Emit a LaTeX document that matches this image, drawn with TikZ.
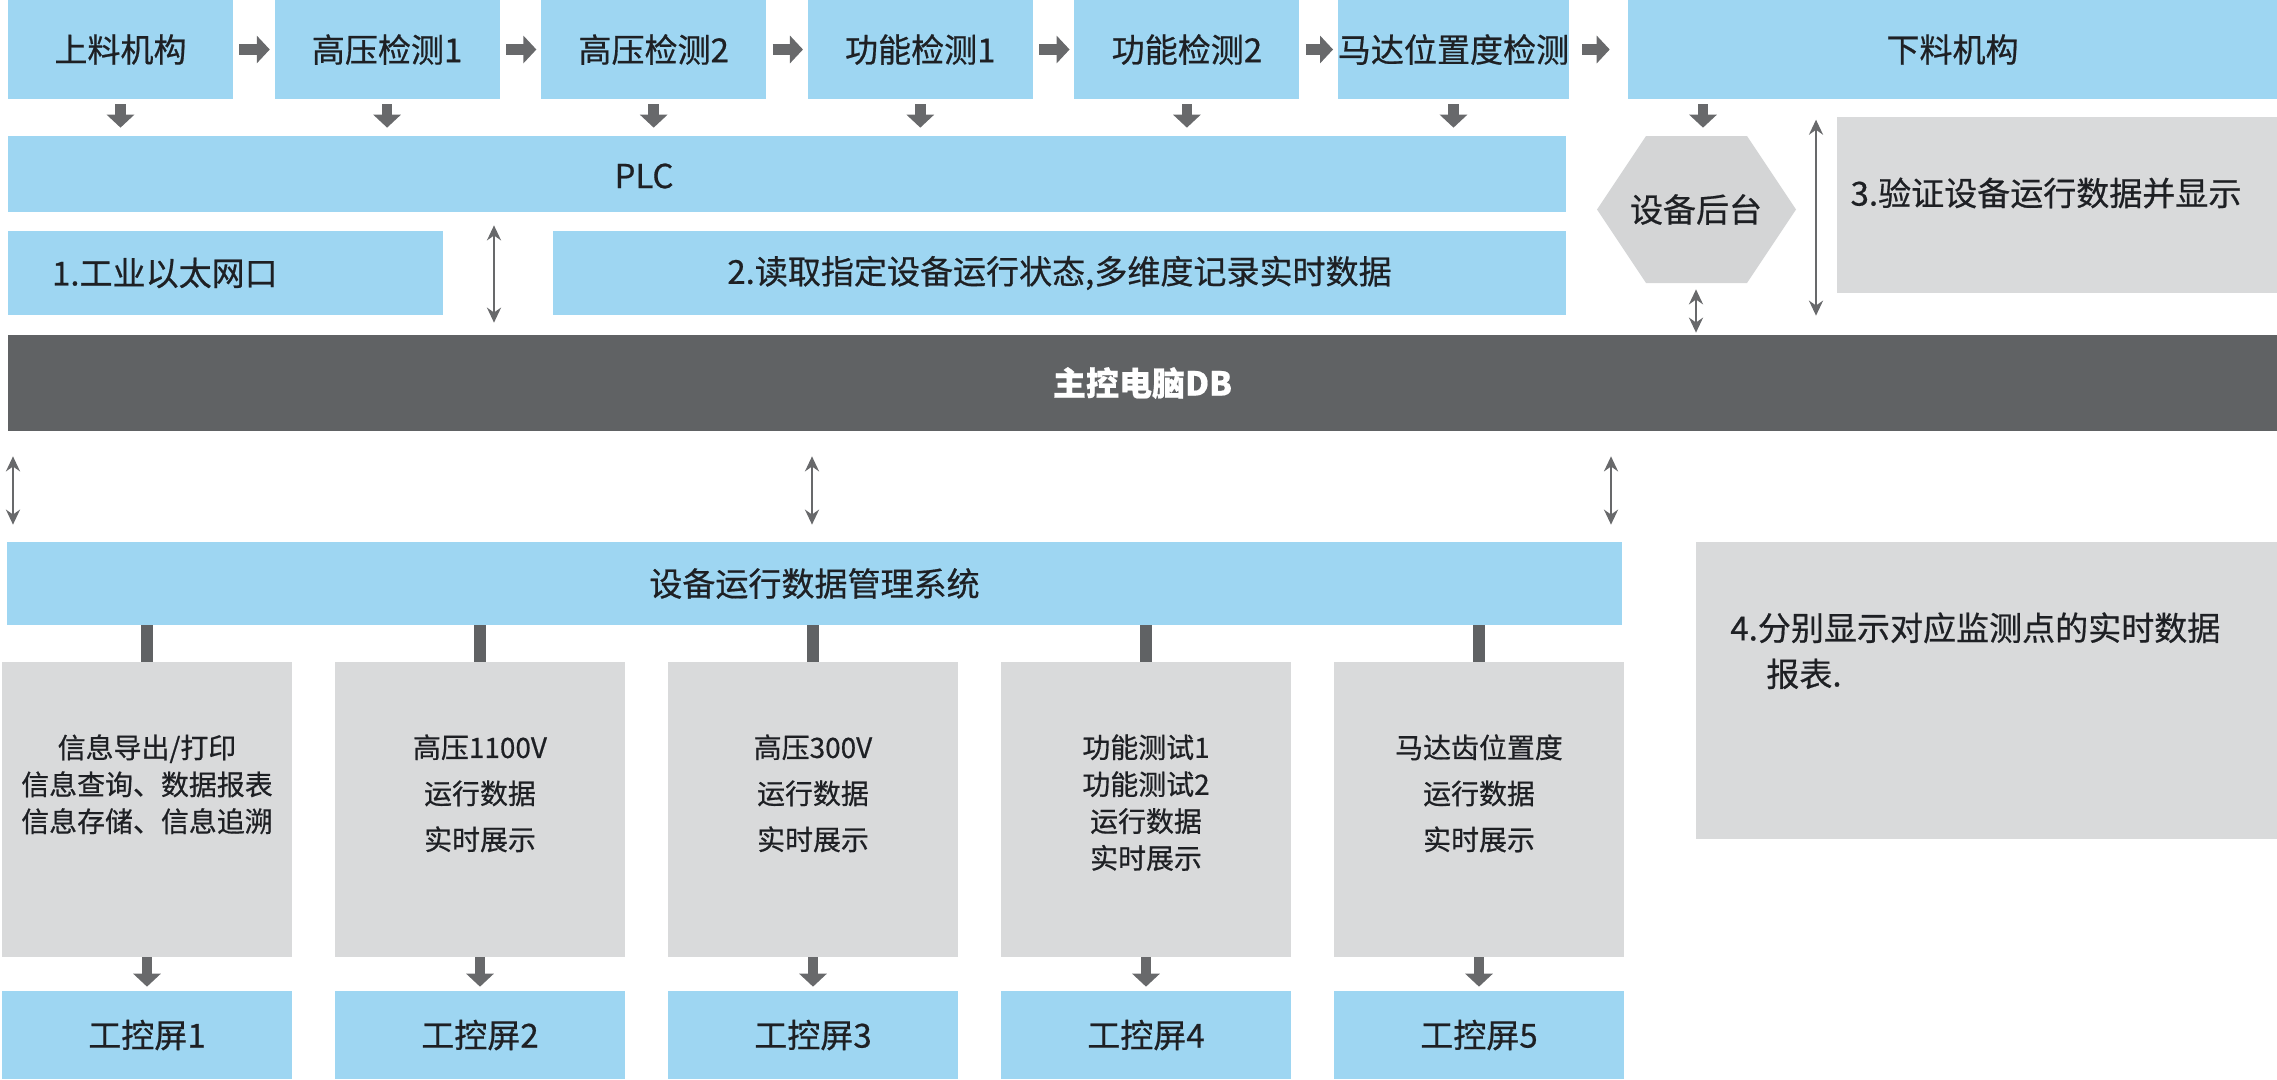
\documentclass[tikz,border=0pt]{standalone}
\usepackage{fontspec}
\setmainfont{Noto Sans CJK SC}[FakeBold=0.6]
\usetikzlibrary{arrows.meta}
\definecolor{boxblue}{RGB}{158,214,242}
\definecolor{boxgrey}{RGB}{217,218,219}
\definecolor{hexgrey}{RGB}{212,213,214}
\definecolor{bargrey}{RGB}{96,98,100}
\definecolor{arrowgrey}{RGB}{104,105,107}
\definecolor{inkgrey}{RGB}{30,32,36}
\begin{document}
\begin{tikzpicture}[x=0.02cm, y=-0.02cm, line join=round, text=inkgrey,
  font=\fontsize{18.8}{22}\selectfont,
  bluebox/.style={fill=boxblue, inner sep=0pt},
  greybox/.style={fill=boxgrey, inner sep=0pt},
  gtext/.style={anchor=north, inner sep=0pt, align=center, font=\fontsize{15.9}{21}\selectfont},
  gtextw/.style={gtext, font=\fontsize{15.9}{26.2}\selectfont},
  fatarrow/.style={draw=arrowgrey, line width=0.21cm, -{Triangle[width=0.54cm, length=0.26cm]}},
  twoway/.style={draw=arrowgrey, line width=0.055cm, {Stealth[width=0.28cm, length=0.3cm]}-{Stealth[width=0.28cm, length=0.3cm]}},
  feedline/.style={draw=bargrey, line width=0.23cm}]
  \useasboundingbox (0,0) rectangle (2277,1079);

  \foreach \n/\txt [count=\i from 0] in {up/上料机构, hv1/高压检测1, hv2/高压检测2, fn1/功能检测1, fn2/功能检测2, mot/马达位置度检测}
    \node[bluebox, minimum width=4.5cm, minimum height=1.98cm] (\n) at ({120.5+266.6*\i},49.5) {\txt};
  \node[bluebox, minimum width=12.98cm, minimum height=1.98cm] (down) at (1952.5,49.5) {下料机构};
  \foreach \a/\b in {up/hv1, hv1/hv2, hv2/fn1, fn1/fn2, fn2/mot}
    \draw[fatarrow, shorten <=0.12cm, shorten >=0.09cm] (\a) -- (\b);
  \draw[fatarrow, shorten <=0.26cm, shorten >=0.36cm] (mot) -- (mot -| down.west);

  \node[bluebox, minimum width=31.16cm, minimum height=1.52cm] (plc) at (787,174) {};
  \node (plctxt) at (644,176) {PLC};
  \foreach \n in {up,hv1,hv2,fn1,fn2,mot}
    \draw[fatarrow, shorten <=0.1cm, shorten >=0.16cm] (\n.south) -- (\n.south |- plc.north);

  \node[bluebox, minimum width=8.7cm, minimum height=1.68cm, text width=6.94cm, inner xsep=0.88cm, align=left] (eth) at (225.5,273) {1.工业以太网口};
  \node[bluebox, minimum width=20.26cm, minimum height=1.68cm] (read) at (1059.5,273) {2.读取指定设备运行状态,多维度记录实时数据};

  \node[fill=bargrey, text=white, font=\fontsize{18.8}{22}\selectfont\bfseries, inner sep=0pt, minimum width=45.38cm, minimum height=1.92cm] (db) at (1142.5,383) {主控电脑DB};
  \coordinate (gapa) at (494,0);
  \draw[twoway, shorten <=0.26cm, shorten >=0.24cm] (plc.south -| gapa) -- (db.north -| gapa);

  \fill[hexgrey] (1597,209.5) -- (1646,136) -- (1747,136) -- (1796,209.5) -- (1747,283) -- (1646,283) -- cycle;
  \node[inner sep=0pt, minimum height=2.94cm] (hub) at (1696,209.5) {设备后台};
  \coordinate (gapc) at (1703,0);
  \draw[fatarrow, shorten <=0.1cm, shorten >=0.16cm] (down.south -| gapc) -- (hub.north -| gapc);
  \draw[twoway, shorten <=0.12cm, shorten >=0.04cm] (hub.south) -- (db.north -| hub.south);

  \node[greybox, minimum width=8.8cm, minimum height=3.52cm] (yan) at (2057,205) {};
  \node (yantxt) at (2046,193) {3.验证设备运行数据并显示};
  \coordinate (gapb) at (1816,0);
  \draw[twoway, shorten <=0.06cm, shorten >=0.38cm] (yan.north -| gapb) -- (db.north -| gapb);

  \node[bluebox, minimum width=32.3cm, minimum height=1.66cm] (sys) at (814.5,583.5) {设备运行数据管理系统};
  \foreach \x in {13,812,1611}
    \draw[twoway, shorten <=0.5cm, shorten >=0.34cm] (db.south -| \x,0) -- (sys.north -| \x,0);

  \node[greybox, minimum width=11.62cm, minimum height=5.94cm] (note) at (1986.5,690.5) {};
  \node[anchor=north west, inner sep=0pt, align=left, font=\fontsize{18.8}{26.2}\selectfont] (notetxt) at (1730,612) {4.分别显示对应监测点的实时数据\\\hspace*{0.72cm}报表.};

  \foreach \i [count=\k] in {0,...,4} {
    \node[greybox, minimum width=5.8cm, minimum height=5.9cm] (g\i) at ({147+333*\i},809.5) {};
    \node[bluebox, minimum width=5.8cm, minimum height=1.76cm] (scr\i) at ({147+333*\i},1035) {工控屏\k};
    \draw[feedline] (sys.south -| g\i.north) -- (g\i.north);
    \draw[fatarrow, shorten >=0.08cm] (g\i.south) -- (scr\i.north);
  }
  \node[gtext] (t0) at (147,734) {信息导出/打印\\信息查询、数据报表\\信息存储、信息追溯};
  \node[gtextw] (t1) at (480,734) {高压1100V\\运行数据\\实时展示};
  \node[gtextw] (t2) at (813,734) {高压300V\\运行数据\\实时展示};
  \node[gtext] (t3) at (1146,734) {功能测试1\\功能测试2\\运行数据\\实时展示};
  \node[gtextw] (t4) at (1479,734) {马达齿位置度\\运行数据\\实时展示};
\end{tikzpicture}
\end{document}
